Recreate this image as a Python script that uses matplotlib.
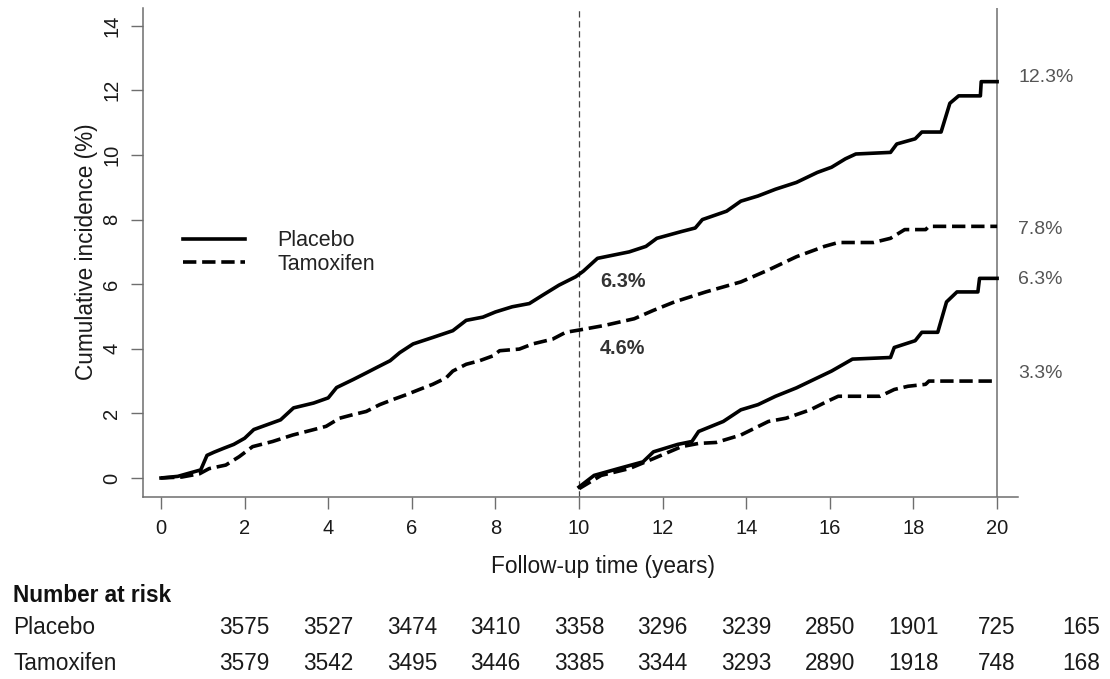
import matplotlib
matplotlib.use("Agg")
import matplotlib.pyplot as plt
import matplotlib.transforms as mtransforms

plt.rcParams['font.family'] = ['Liberation Sans', 'DejaVu Sans']

# ---------------- data ----------------
placebo_t = [0, 0.4, 0.95, 1.1, 1.27, 1.5, 1.74, 2.0, 2.22, 2.54, 2.86, 3.17, 3.65, 4.0, 4.2, 4.6,
             4.92, 5.16, 5.48, 5.71, 6.03, 6.5, 6.98, 7.3, 7.7, 8.0, 8.4, 8.81, 9.13, 9.52, 9.92,
             10.1, 10.44, 11.2, 11.6, 11.86, 12.45, 12.78, 12.95, 13.53, 13.87, 14.28, 14.7, 15.2,
             15.7, 16.04, 16.37, 16.62, 17.45, 17.6, 18.04, 18.2, 18.66, 18.87, 19.08, 19.6,
             19.62, 20.0]
placebo_v = [0, 0.05, 0.25, 0.7, 0.8, 0.92, 1.04, 1.23, 1.5, 1.65, 1.8, 2.17, 2.32, 2.48, 2.8, 3.05,
             3.26, 3.42, 3.63, 3.88, 4.15, 4.35, 4.56, 4.88, 4.98, 5.14, 5.3, 5.4, 5.66, 5.97, 6.23,
             6.4, 6.8, 7.0, 7.17, 7.42, 7.63, 7.74, 8.0, 8.26, 8.57, 8.73, 8.94, 9.15,
             9.46, 9.62, 9.88, 10.03, 10.08, 10.34, 10.5, 10.71, 10.71, 11.6, 11.83, 11.83,
             12.27, 12.27]

tamox_t = [0, 0.5, 0.92, 1.15, 1.55, 1.87, 2.19, 2.67, 3.15, 3.63, 3.95, 4.27, 4.59, 4.91, 5.23,
           5.55, 5.87, 6.18, 6.5, 6.82, 6.98, 7.3, 7.62, 7.94, 8.1, 8.57, 8.89, 9.37, 9.68, 10.0,
           10.6, 11.32, 11.78, 12.28, 13.03, 13.87, 14.53, 15.2, 15.87, 16.2, 17.04, 17.45, 17.79,
           18.29, 18.37, 20.0]
tamox_v = [0, 0.03, 0.13, 0.29, 0.4, 0.66, 0.97, 1.13, 1.33, 1.49, 1.6, 1.85, 1.96, 2.06, 2.27,
           2.43, 2.58, 2.74, 2.9, 3.1, 3.31, 3.52, 3.63, 3.78, 3.94, 3.99, 4.15, 4.3, 4.51, 4.58,
           4.72, 4.93, 5.19, 5.45, 5.76, 6.07, 6.44, 6.85, 7.17, 7.29, 7.29, 7.42, 7.69,
           7.69, 7.79, 7.79]

placebo10_t = [10.0, 10.36, 10.94, 11.53, 11.78, 12.36, 12.7, 12.86, 13.45, 13.87, 14.28, 14.7,
               15.2, 15.7, 16.04, 16.54, 17.45, 17.54, 18.04, 18.2, 18.58, 18.79, 19.04, 19.54,
               19.58, 20.0]
placebo10_v = [-0.28, 0.08, 0.29, 0.5, 0.81, 1.04, 1.13, 1.44, 1.75, 2.11, 2.27, 2.53,
               2.79, 3.1, 3.31, 3.68, 3.73, 4.04, 4.25, 4.51, 4.51, 5.45, 5.76, 5.76,
               6.18, 6.18]

tamox10_t = [10.0, 10.53, 11.2, 11.78, 12.45, 12.86, 13.28, 13.87, 14.53, 14.95, 15.53, 15.95,
             16.2, 17.2, 17.54, 17.87, 18.29, 18.37, 20.0]
tamox10_v = [-0.33, 0.08, 0.29, 0.6, 0.97, 1.07, 1.1, 1.33, 1.75, 1.85, 2.11, 2.38,
             2.53, 2.53, 2.74, 2.84, 2.9, 3.0, 3.0]

series_labels = ["Placebo", "Tamoxifen"]
end_labels = ["12.3%", "7.8%", "6.3%", "3.3%"]
end_label_y = [12.41, 7.68, 6.13, 3.25]
mid_labels = ["6.3%", "4.6%"]
mid_label_y = [6.08, 4.02]

x_ticks = list(range(0, 21, 2))
y_ticks = list(range(0, 15, 2))

risk_times = list(range(0, 21, 2))
risk_placebo = [3575, 3527, 3474, 3410, 3358, 3296, 3239, 2850, 1901, 725, 165]
risk_tamox = [3579, 3542, 3495, 3446, 3385, 3344, 3293, 2890, 1918, 748, 168]

# ---------------- figure ----------------
W, H = 1110, 679
fig = plt.figure(figsize=(W / 100, H / 100), dpi=100)
ax_l, ax_r, ax_b, ax_t = 143, 1018, 497.3, 8
ax = fig.add_axes([ax_l / W, 1 - ax_b / H, (ax_r - ax_l) / W, (ax_b - ax_t) / H])
ax.set_xlim(-0.431, 20.5)
ax.set_ylim(-0.598, 14.55)

spine_col = '#6e6e6e'
for s in ['top', 'right']:
    ax.spines[s].set_visible(False)
for s in ['left', 'bottom']:
    ax.spines[s].set_color(spine_col)
    ax.spines[s].set_linewidth(1.1)

ax.set_xticks(x_ticks)
ax.set_yticks(y_ticks)
ax.tick_params(axis='both', length=8.6, width=1.0, color=spine_col, labelsize=14.5,
               labelcolor='#1a1a1a')
ax.tick_params(axis='x', pad=7)
ax.tick_params(axis='y', pad=7, labelrotation=90)
for lab in ax.get_yticklabels():
    lab.set_va('center')

# reference lines
ax.axvline(20, color='#7a7a7a', lw=1.2, zorder=1)
ax.axvline(10, color='#444444', lw=0.9, ls=(0, (5, 3)), zorder=1)

lw = 2.6
l1, = ax.plot(placebo_t, placebo_v, color='black', lw=lw, label=series_labels[0])
l2, = ax.plot(tamox_t, tamox_v, color='black', lw=lw, ls='--', label=series_labels[1])
ax.plot(placebo10_t, placebo10_v, color='black', lw=lw)
ax.plot(tamox10_t, tamox10_v, color='black', lw=lw, ls='--')

leg = ax.legend(handles=[l1, l2], loc='upper left', bbox_to_anchor=(0.0457, 0.546),
                frameon=False, fontsize=15.5, handlelength=2.88, handletextpad=1.5,
                labelspacing=0.12, borderpad=0, borderaxespad=0)
for t in leg.get_texts():
    t.set_color('#222222')

# end labels
for lab, y in zip(end_labels, end_label_y):
    ax.text(20.5, y, lab, ha='left', va='center', fontsize=14, color='#555555', clip_on=False)
for lab, y in zip(mid_labels, mid_label_y):
    ax.text(10.5, y, lab, ha='left', va='center', fontsize=14.3, color='#333333',
            fontweight='bold')

# axis labels
fig.text(603 / W, 1 - 566 / H, "Follow-up time (years)", ha='center', va='center',
         fontsize=16.3, color='#1a1a1a')
fig.text(87 / W, 1 - 252 / H, "Cumulative incidence (%)", ha='center', va='center',
         rotation=90, fontsize=16.3, color='#1a1a1a')

# number at risk table
fig.text(13 / W, 1 - 595 / H, "Number at risk", ha='left', va='center', fontsize=16.3,
         fontweight='bold', color='#111111')
fig.text(13 / W, 1 - 628 / H, series_labels[0], ha='left', va='center', fontsize=16.3,
         color='#1a1a1a')
fig.text(13 / W, 1 - 663 / H, series_labels[1], ha='left', va='center', fontsize=16.3,
         color='#1a1a1a')
trans = mtransforms.blended_transform_factory(ax.transData, fig.transFigure)
for t, a, b in zip(risk_times, risk_placebo, risk_tamox):
    ax.text(t + 2, 1 - 628 / H, str(a), transform=trans, ha='center', va='center',
            fontsize=16.3, color='#1a1a1a', clip_on=False)
    ax.text(t + 2, 1 - 663 / H, str(b), transform=trans, ha='center', va='center',
            fontsize=16.3, color='#1a1a1a', clip_on=False)

fig.savefig("out.png", dpi=100)
